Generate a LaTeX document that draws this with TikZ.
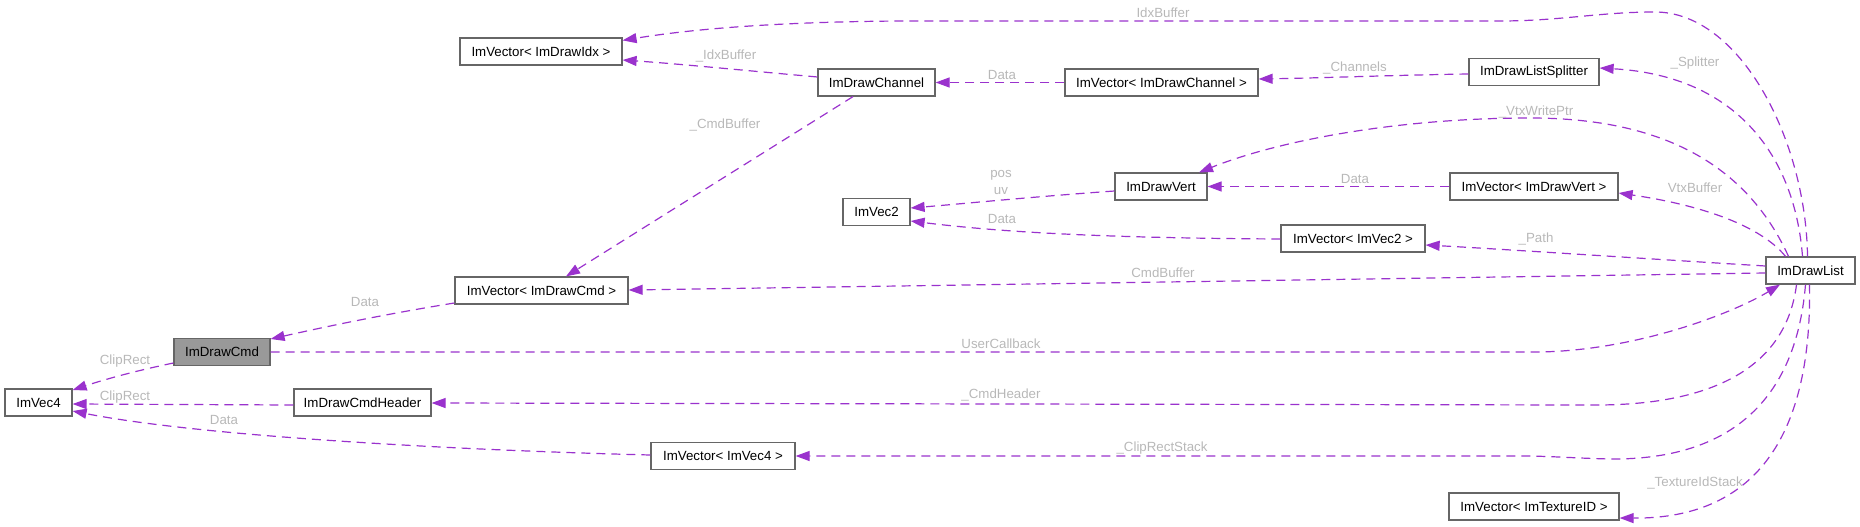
\documentclass[tikz,border=0pt]{standalone}
\usepackage{fontspec}
\setmainfont{Liberation Sans}
\usetikzlibrary{arrows.meta}
\definecolor{purp}{HTML}{9A32CD}
\definecolor{lblgray}{HTML}{B8B8B8}
\definecolor{boxgray}{HTML}{666666}
\definecolor{cmdfill}{HTML}{999999}
\begin{document}
\begin{tikzpicture}[x=1pt,y=-1pt,
 box/.style={draw=boxgray,line width=1.2pt,fill=white,minimum height=27pt,inner sep=0pt,font=\fontsize{13.3}{16}\selectfont},
 rel/.style={draw=purp,line width=1.2pt,dash pattern=on 9pt off 6pt,-{Triangle[length=14pt,width=10pt]}},
 lbl/.style={text=lblgray,inner sep=0pt,font=\fontsize{13.3}{16}\selectfont}]
\useasboundingbox (0,0) rectangle (1860,527);
% nodes
\node[box,minimum width=162pt] (vIdx) at (541,51.5) {ImVector< ImDrawIdx >};
\node[box,minimum width=117pt] (chan) at (876.5,82.5) {ImDrawChannel};
\node[box,minimum width=193pt] (vChan) at (1161.5,82.5) {ImVector< ImDrawChannel >};
\node[box,minimum width=130pt] (split) at (1534,72) {ImDrawListSplitter};
\node[box,minimum width=67pt] (vec2) at (876.5,212) {ImVec2};
\node[box,minimum width=92pt] (vert) at (1161,186.5) {ImDrawVert};
\node[box,minimum width=168pt] (vVert) at (1534,186.5) {ImVector< ImDrawVert >};
\node[box,minimum width=144pt] (vVec2) at (1353,238.5) {ImVector< ImVec2 >};
\node[box,minimum width=89pt] (list) at (1810.5,270.5) {ImDrawList};
\node[box,minimum width=173pt] (vCmd) at (541.5,290.5) {ImVector< ImDrawCmd >};
\node[box,minimum width=96pt,fill=cmdfill] (cmd) at (222,352) {ImDrawCmd};
\node[box,minimum width=67pt] (vec4) at (38.5,402.5) {ImVec4};
\node[box,minimum width=137pt] (hdr) at (362.5,402.5) {ImDrawCmdHeader};
\node[box,minimum width=144pt] (vVec4) at (723,456) {ImVector< ImVec4 >};
\node[box,minimum width=170pt] (vTex) at (1534,506.5) {ImVector< ImTextureID >};
% edges
\draw[rel] ([xshift=-3pt]list.north) .. controls (1806,140) and (1740,12) .. (1655,12)
  .. controls (1600,12) and (1560,21) .. (1500,21) -- (900,21)
  .. controls (760,22) and (680,31) .. ([yshift=-3pt]vIdx.north east);
\draw[rel] (chan.west |- 0,77) .. controls (740,70) and (680,64) .. (vIdx.east |- 0,60);
\draw[rel] (vChan.west) -- (chan.east);
\draw[rel] (split.west |- 0,74) .. controls (1400,75) and (1320,78) .. (vChan.east |- 0,79);
\draw[rel] ([xshift=-8pt]list.north) .. controls (1795,160) and (1740,76) .. (split.east |- 0,68);
\draw[rel] (chan.south -| 853,0) -- (vCmd.north -| 566,0);
\draw[rel] ([xshift=-22pt]list.north) .. controls (1740,150) and (1640,118) .. (1530,118)
  .. controls (1400,118) and (1280,140) .. (vert.north -| 1199,0);
\draw[rel] (vVert.west) -- (vert.east);
\draw[rel] ([xshift=-25pt]list.north) .. controls (1760,225) and (1700,205) .. (vVert.east |- 0,193);
\draw[rel] (vert.west |- 0,191) .. controls (1030,197) and (960,204) .. (vec2.east |- 0,208);
\draw[rel] (vVec2.west |- 0,239) .. controls (1100,238) and (1000,232) .. (vec2.east |- 0,221);
\draw[rel] (list.west |- 0,266) .. controls (1650,259) and (1500,249) .. (vVec2.east |- 0,245);
\draw[rel] (list.west |- 0,273) .. controls (1300,280) and (900,286) .. (vCmd.east |- 0,290);
\draw[rel] (vCmd.west |- 0,303) .. controls (380,315) and (320,328) .. (cmd.north east |- 0,339);
\draw[rel] (cmd.east) -- (1540,352) .. controls (1640,350) and (1735,312) .. (list.south -| 1780,0);
\draw[rel] (cmd.west |- 0,363) .. controls (130,372) and (100,381) .. (vec4.north east |- 0,390);
\draw[rel] (hdr.west |- 0,405) -- (vec4.east |- 0,404);
\draw[rel] (vVec4.west |- 0,455) .. controls (450,450) and (200,436) .. (vec4.east |- 0,411);
\draw[rel] ([xshift=-14pt]list.south) .. controls (1785,375) and (1700,406) .. (1590,405)
  -- (hdr.east |- 0,403);
\draw[rel] ([xshift=-5pt]list.south) .. controls (1795,410) and (1720,460) .. (1610,459)
  .. controls (1570,458) and (1550,456) .. (1520,456) -- (vVec4.east);
\draw[rel] ([xshift=-1pt]list.south) .. controls (1812,430) and (1760,519) .. (vTex.east |- 0,518);
% labels
\node[lbl] (l1) at (1163,13) {IdxBuffer};
\node[lbl] (l2) at (726,56) {\_IdxBuffer};
\node[lbl] (l3) at (1002,75) {Data};
\node[lbl] (l4) at (1355,68) {\_Channels};
\node[lbl] (l5) at (1695,63) {\_Splitter};
\node[lbl] (l6) at (725,125) {\_CmdBuffer};
\node[lbl] (l7) at (1536,112) {\_VtxWritePtr};
\node[lbl] (l8) at (1001,175) {pos};
\node[lbl] (l9) at (1001,191) {uv};
\node[lbl] (l10) at (1355,179) {Data};
\node[lbl] (l11) at (1695,188) {VtxBuffer};
\node[lbl] (l12) at (1002,219) {Data};
\node[lbl] (l13) at (1536,239) {\_Path};
\node[lbl] (l14) at (1163,273) {CmdBuffer};
\node[lbl] (l15) at (365,302) {Data};
\node[lbl] (l16) at (1001,344) {UserCallback};
\node[lbl] (l17) at (125,361) {ClipRect};
\node[lbl] (l18) at (125,397) {ClipRect};
\node[lbl] (l19) at (1001,395) {\_CmdHeader};
\node[lbl] (l20) at (224,420) {Data};
\node[lbl] (l21) at (1162,448) {\_ClipRectStack};
\node[lbl] (l22) at (1695,483) {\_TextureIdStack};
\end{tikzpicture}
\end{document}
